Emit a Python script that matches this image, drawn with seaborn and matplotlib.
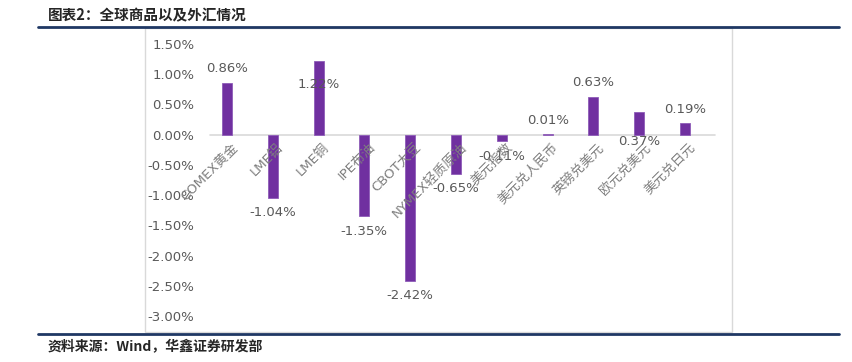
import matplotlib
matplotlib.use('Agg')
import matplotlib.pyplot as plt
import seaborn as sns
import pandas as pd
from matplotlib.patches import Rectangle
from matplotlib.lines import Line2D

# Data
categories = ['COMEX黄金', 'LME铝', 'LME铜', 'IPE布油', 'CBOT大豆', 'NYMEX轻质原油',
              '美元指数', '美元兑人民币', '英镑兑美元', '欧元兑美元', '美元兑日元']
changes = [0.86, -1.04, 1.22, -1.35, -2.42, -0.65, -0.11, 0.01, 0.63, 0.37, 0.19]
yticks = [1.5, 1.0, 0.5, 0.0, -0.5, -1.0, -1.5, -2.0, -2.5, -3.0]

df = pd.DataFrame({'cat': categories, 'chg': changes})

sns.set_style('white')
plt.rcParams['font.family'] = ['DejaVu Sans', 'Noto Sans CJK SC']

bar_color = '#7030A0'
text_gray = '#595959'
label_gray = '#7F7F7F'
navy = '#1F3864'

fig = plt.figure(figsize=(8.52, 3.62), dpi=100)
ax = fig.add_axes([204 / 852, 46 / 362, 504 / 852, 272 / 362])

sns.barplot(data=df, x='cat', y='chg', color=bar_color, width=0.22, ax=ax,
            saturation=1, edgecolor='#8E5CB8', linewidth=0.6)

ax.set_xlim(-0.5, len(categories) - 0.5)
ax.set_ylim(-3.0, 1.5)
ax.set_yticks(yticks)
ax.set_yticklabels([f'{v:.2f}%' for v in yticks], color=text_gray, fontsize=9.5)
ax.tick_params(axis='y', length=0, pad=7)
ax.set_xticks([])
ax.set_xlabel('')
ax.set_ylabel('')
for s in ax.spines.values():
    s.set_visible(False)
ax.axhline(0, xmin=6 / 504, xmax=511 / 504, color='#D9D9D9', lw=1.2, zorder=0,
           clip_on=False)

# value labels (Excel put a couple of them in odd spots)
odd = {'LME铜': -24, '欧元兑美元': -29}
for i, (c, v) in enumerate(zip(categories, changes)):
    dy = odd.get(c, 14 if v >= 0 else -15)
    ax.annotate(f'{v:.2f}%', (i, v), xytext=(0, dy), textcoords='offset pixels',
                ha='center', va='center', color=text_gray, fontsize=9.5)

# category labels rotated along the zero line
for i, c in enumerate(categories):
    ax.annotate(c, (i, 0), xytext=(4, -6), textcoords='offset pixels',
                ha='right', va='top', rotation=45, rotation_mode='anchor',
                color=label_gray, fontsize=9.5)

# frame, rules, title and source
fig.patches.append(Rectangle((145 / 852, 1 - 332 / 362), (732 - 145) / 852, (332 - 28) / 362,
                             transform=fig.transFigure, fill=False,
                             edgecolor='#D9D9D9', lw=1, zorder=0))
fig.lines.append(Line2D([38 / 852, 839 / 852], [1 - 27 / 362] * 2, transform=fig.transFigure,
                        color=navy, lw=2))
fig.lines.append(Line2D([38 / 852, 839 / 852], [1 - 334 / 362] * 2, transform=fig.transFigure,
                        color=navy, lw=2))
fig.text(48 / 852, 1 - 15 / 362, '图表2：全球商品以及外汇情况', fontsize=10.5,
         fontweight='bold', va='center', ha='left',
         family=['Noto Sans CJK SC', 'DejaVu Sans'])
fig.text(48 / 852, 1 - 347 / 362, '资料来源：Wind，华鑫证券研发部', fontsize=10,
         fontweight='bold', va='center', ha='left',
         family=['Noto Sans CJK SC', 'DejaVu Sans'])

fig.savefig('out.png', dpi=100)
